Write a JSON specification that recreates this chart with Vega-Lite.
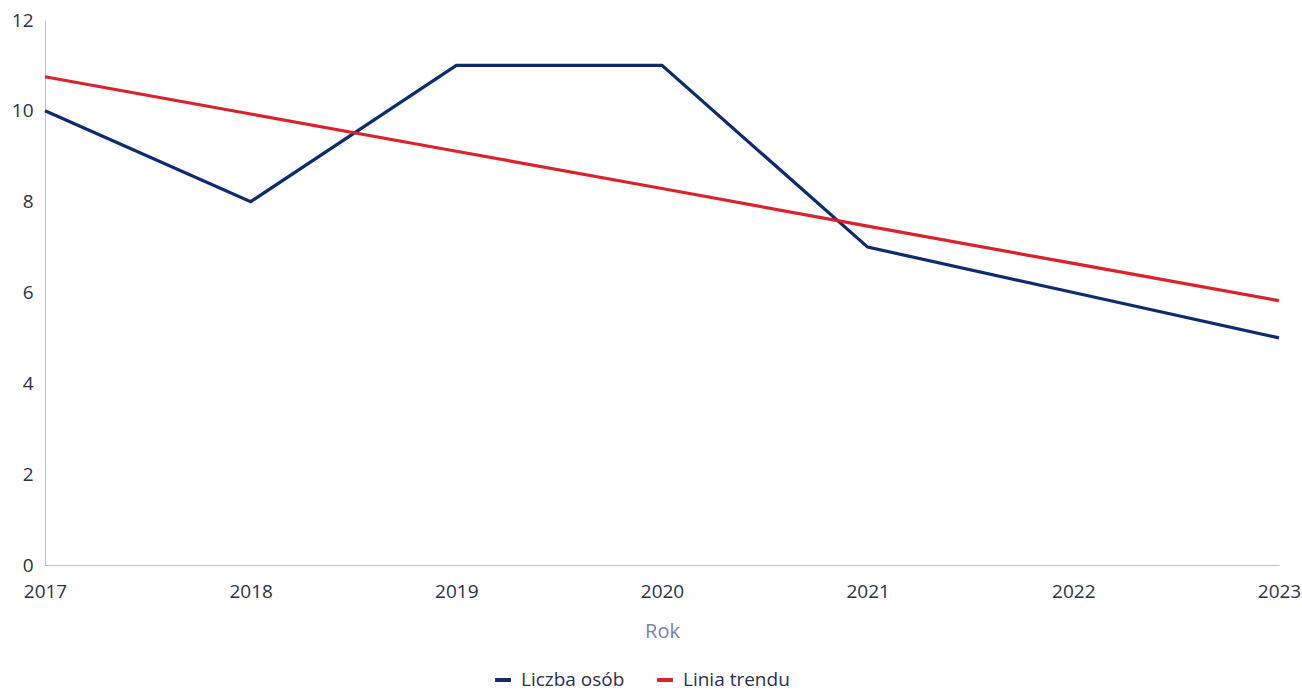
{
  "$schema": "https://vega.github.io/schema/vega-lite/v6.json",
  "autosize": {"type": "none"},
  "width": 1234,
  "height": 545,
  "padding": {"left": 45, "top": 20, "right": 23, "bottom": 128},
  "background": "white",
  "data": {"values": [
    {"rok": 2017, "wartosc": 10, "seria": "Liczba osób"},
    {"rok": 2018, "wartosc": 8, "seria": "Liczba osób"},
    {"rok": 2019, "wartosc": 11, "seria": "Liczba osób"},
    {"rok": 2020, "wartosc": 11, "seria": "Liczba osób"},
    {"rok": 2021, "wartosc": 7, "seria": "Liczba osób"},
    {"rok": 2022, "wartosc": 6, "seria": "Liczba osób"},
    {"rok": 2023, "wartosc": 5, "seria": "Liczba osób"},
    {"rok": 2017, "wartosc": 10.75, "seria": "Linia trendu"},
    {"rok": 2018, "wartosc": 9.93, "seria": "Linia trendu"},
    {"rok": 2019, "wartosc": 9.11, "seria": "Linia trendu"},
    {"rok": 2020, "wartosc": 8.29, "seria": "Linia trendu"},
    {"rok": 2021, "wartosc": 7.46, "seria": "Linia trendu"},
    {"rok": 2022, "wartosc": 6.64, "seria": "Linia trendu"},
    {"rok": 2023, "wartosc": 5.82, "seria": "Linia trendu"}
  ]},
  "mark": {"type": "line", "strokeWidth": 3.2},
  "encoding": {
    "x": {
      "field": "rok", "type": "quantitative",
      "scale": {"domain": [2017, 2023], "nice": false, "zero": false},
      "axis": {
        "title": "Rok", "titleFontSize": 20, "titleFontWeight": "normal", "titleColor": "#7d82a8",
        "titlePadding": 20, "titleFont": "Open Sans",
        "values": [2017, 2018, 2019, 2020, 2021, 2022, 2023], "format": "d",
        "labelFontSize": 19, "labelFont": "Open Sans", "labelColor": "#2e3048", "labelPadding": 17,
        "labelFlush": false, "labelOverlap": false, "ticks": false, "grid": false,
        "domainColor": "#b8bfd8", "domainWidth": 1
      }
    },
    "y": {
      "field": "wartosc", "type": "quantitative",
      "scale": {"domain": [0, 12], "nice": false},
      "axis": {
        "title": null, "values": [0, 2, 4, 6, 8, 10, 12],
        "labelFontSize": 19, "labelFont": "Open Sans", "labelColor": "#2e3048", "labelPadding": 12,
        "ticks": false, "grid": false, "domainColor": "#b8bfd8", "domainWidth": 1
      }
    },
    "color": {
      "field": "seria", "type": "nominal",
      "scale": {"domain": ["Liczba osób", "Linia trendu"], "range": ["#0e2b6e", "#d9222a"]},
      "legend": {
        "title": null, "orient": "none", "direction": "horizontal", "legendX": 448, "legendY": 650,
        "labelFontSize": 19, "labelFont": "Open Sans", "labelColor": "#2e3048",
        "symbolType": "stroke", "symbolStrokeWidth": 4, "symbolSize": 250, "columnPadding": 24, "labelOffset": 8
      }
    }
  },
  "config": {"view": {"stroke": null}}
}
